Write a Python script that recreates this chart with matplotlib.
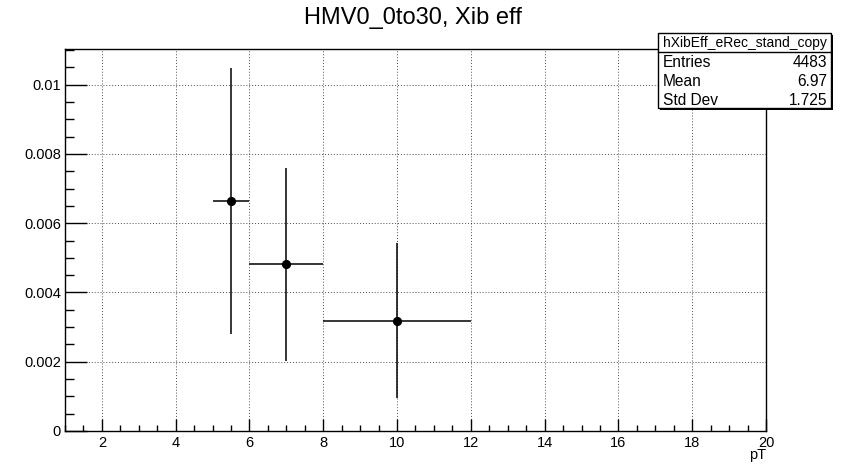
import matplotlib
matplotlib.use("Agg")
import matplotlib.pyplot as plt
from matplotlib.ticker import MultipleLocator, FuncFormatter
from matplotlib.patches import Rectangle

plt.rcParams['font.family'] = ['Liberation Sans', 'DejaVu Sans']

# Efficiency per pT bin
pt_centers = [5.5, 7.0, 10.0]
pt_halfwidths = [0.5, 1.0, 2.0]
eff_values = [0.00664, 0.00481, 0.00319]
eff_errors = [0.00384, 0.00279, 0.00224]

title = "HMV0_0to30, Xib eff"
stats_name = "hXibEff_eRec_stand_copy"
stats_labels = ["Entries", "Mean", "Std Dev"]
stats_values = ["4483", "6.97", "1.725"]

fig = plt.figure(figsize=(8.42, 4.69), dpi=100)
W, H = 842, 469
ax = fig.add_axes([65 / W, 1 - 431 / H, (766 - 65) / W, (431 - 49) / H])

ax.errorbar(pt_centers, eff_values, xerr=pt_halfwidths, yerr=eff_errors,
            fmt='o', color='black', ms=5.6, elinewidth=1.1, capsize=0, zorder=3)

ax.set_xlim(1, 20)
ax.set_ylim(0, 0.01103)

ax.xaxis.set_major_locator(MultipleLocator(2))
ax.xaxis.set_minor_locator(MultipleLocator(0.5))
ax.yaxis.set_major_locator(MultipleLocator(0.002))
ax.yaxis.set_minor_locator(MultipleLocator(0.0005))


def yfmt(v, pos):
    if abs(v) < 1e-12:
        return "0"
    return f"{v:.3f}".rstrip('0')


ax.yaxis.set_major_formatter(FuncFormatter(yfmt))
ax.xaxis.set_major_formatter(FuncFormatter(lambda v, p: f"{v:g}"))

ax.tick_params(axis='x', which='major', direction='in', length=8.4, width=1.0,
               top=False, labelsize=10.5, pad=3.5)
ax.tick_params(axis='x', which='minor', direction='in', length=4.3, width=1.0, top=False)
ax.tick_params(axis='y', which='major', direction='in', length=15.6, width=1.0,
               right=False, labelsize=10.5, pad=3)
ax.tick_params(axis='y', which='minor', direction='in', length=6.5, width=1.0, right=False)

ax.grid(True, which='major', linestyle=(0, (1, 2)), color='black', linewidth=0.7, alpha=0.7)
ax.set_axisbelow(True)
for sp in ax.spines.values():
    sp.set_linewidth(1.0)
    sp.set_color('black')

ax.set_xlabel("pT", fontsize=10.5, loc='right', labelpad=-1)

fig.text(413 / W, 1 - 18 / H, title, ha='center', va='center', fontsize=17)

# Statistics box
bx0, bx1, by0, by1 = 658, 831, 33, 108
sep = 52
shadow = 2
fig.patches.append(Rectangle((bx0 / W + shadow / W, 1 - (by1 + shadow) / H), (bx1 - bx0) / W, (by1 - by0) / H,
                             transform=fig.transFigure, facecolor='black', edgecolor='none', zorder=9))
fig.patches.append(Rectangle((bx0 / W, 1 - by1 / H), (bx1 - bx0) / W, (by1 - by0) / H,
                             transform=fig.transFigure, facecolor='white', edgecolor='black',
                             linewidth=1.0, zorder=10))
fig.lines.append(plt.Line2D([bx0 / W, bx1 / W], [1 - sep / H, 1 - sep / H],
                            transform=fig.transFigure, color='black', linewidth=1.0, zorder=11))
fig.text((bx0 + bx1) / 2 / W, 1 - 42.5 / H, stats_name, ha='center', va='center',
         fontsize=10, zorder=12)
row_y = [62.5, 81.5, 100]
for lab, val, yy in zip(stats_labels, stats_values, row_y):
    fig.text((bx0 + 5) / W, 1 - yy / H, lab, ha='left', va='center', fontsize=11.2, zorder=12)
    fig.text((bx1 - 4) / W, 1 - yy / H, val, ha='right', va='center', fontsize=11.2, zorder=12)

fig.savefig("out.png", dpi=100)
